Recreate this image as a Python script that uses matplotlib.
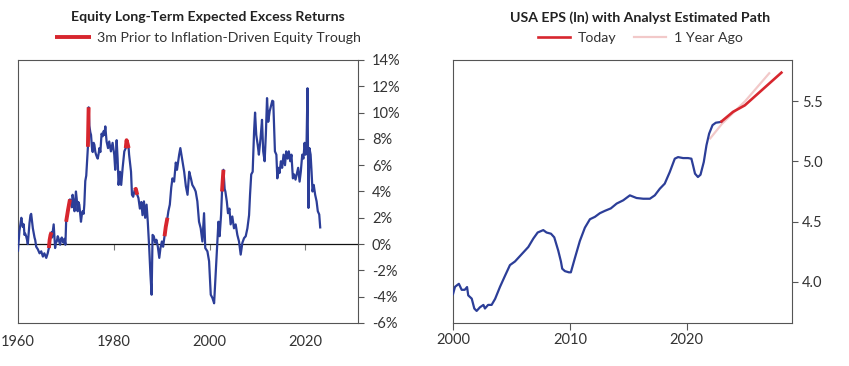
import matplotlib
matplotlib.use("Agg")
import numpy as np
import matplotlib.pyplot as plt
from matplotlib.ticker import FuncFormatter

plt.rcParams['font.family'] = ['Lato', 'DejaVu Sans']

# --- Equity long-term expected excess returns (%) ---
erp_years = [
    1960.0, 1960.15, 1960.3, 1960.5, 1960.7, 1960.85, 1961.0, 1961.2, 1961.35, 1961.5,
    1961.7, 1961.9, 1962.05, 1962.25, 1962.4, 1962.6, 1962.75, 1962.9, 1963.1, 1963.3,
    1963.45, 1963.6, 1963.8, 1964.15, 1964.5, 1964.85, 1965.2, 1965.5, 1965.9, 1966.2,
    1966.45, 1966.6, 1966.8, 1967.0, 1967.1, 1967.3, 1967.45, 1967.6, 1967.75, 1967.9,
    1968.1, 1968.3, 1968.45, 1968.6, 1968.8, 1969.0, 1969.15, 1969.3, 1969.5, 1969.7,
    1969.9, 1970.05, 1970.45, 1970.85, 1971.1, 1971.25, 1971.4, 1971.6, 1971.8, 1972.1,
    1972.3, 1972.45, 1972.6, 1972.8, 1973.0, 1973.15, 1973.35, 1973.5, 1973.7, 1973.85,
    1974.05, 1974.25, 1974.45, 1974.6, 1974.75, 1974.9, 1975.1, 1975.25, 1975.45, 1975.6,
    1975.8, 1975.95, 1976.15, 1976.3, 1976.5, 1976.65, 1976.85, 1977.0, 1977.2, 1977.45,
    1977.7, 1977.9, 1978.05, 1978.23, 1978.5, 1978.8, 1979.05, 1979.4, 1979.75, 1980.1,
    1980.3, 1980.6, 1980.8, 1981.0, 1981.3, 1981.55, 1981.85, 1982.2, 1982.5, 1982.67,
    1982.9, 1983.1, 1983.2, 1983.6, 1983.8, 1984.05, 1984.35, 1984.6, 1984.9, 1985.15,
    1985.45, 1985.75, 1986.0, 1986.3, 1986.55, 1986.85, 1987.1, 1987.4, 1987.65, 1987.9,
    1988.1, 1988.35, 1988.65, 1988.9, 1989.2, 1989.5, 1989.75, 1990.05, 1990.3, 1990.6,
    1990.85, 1991.2, 1991.4, 1991.7, 1992.0, 1992.25, 1992.6, 1992.95, 1993.2, 1993.65,
    1993.9, 1994.35, 1994.7, 1995.05, 1995.4, 1995.75, 1996.1, 1996.4, 1996.8, 1997.1,
    1997.45, 1997.8, 1998.15, 1998.5, 1998.85, 1999.1, 1999.55, 1999.9, 2000.25, 2000.6,
    2000.95, 2001.3, 2001.65, 2001.85, 2002.1, 2002.4, 2002.6, 2002.9, 2003.15, 2003.3,
    2003.6, 2003.85, 2004.15, 2004.4, 2004.75, 2005.1, 2005.45, 2005.8, 2006.15, 2006.5,
    2006.85, 2007.2, 2007.55, 2007.9, 2008.25, 2008.45, 2008.7, 2009.0, 2009.3, 2009.5,
    2009.75, 2010.05, 2010.3, 2010.65, 2010.95, 2011.2, 2011.5, 2011.75, 2012.0, 2012.25,
    2012.55, 2012.9, 2013.1, 2013.3, 2013.45, 2013.65, 2013.95, 2014.15, 2014.35, 2014.6,
    2014.9, 2015.15, 2015.45, 2015.75, 2016.0, 2016.3, 2016.55, 2016.85, 2017.1, 2017.4,
    2017.65, 2017.95, 2018.25, 2018.5, 2018.8, 2019.05, 2019.35, 2019.6, 2019.85, 2020.05,
    2020.25, 2020.45, 2020.65, 2020.85, 2021.1, 2021.3, 2021.5, 2021.75, 2022.05, 2022.35,
    2022.6, 2022.9, 2023.1,
]
erp_values = [
    -0.5, 0.3, 1.0, 1.5, 2.0, 1.6, 1.3, 1.5, 0.7, 0.8,
    0.6, 0.3, 0.0, 0.9, 1.6, 2.2, 2.3, 1.8, 1.2, 0.8,
    0.5, 0.3, -0.2, -0.4, -0.7, -0.55, -0.95, -0.7, -1.05, -0.7,
    -0.3, 0.3, 0.7, 0.9, 0.5, 1.1, 1.5, 0.6, -0.3, 0.1,
    0.2, 0.6, 0.45, 0.2, -0.05, 0.4, 0.5, 0.3, 0.1, 0.4,
    -0.05, 1.7, 2.6, 3.4, 3.2, 2.8, 3.75, 3.2, 2.5, 4.0,
    3.3, 2.5, 3.2, 3.0, 2.3, 1.7, 2.3, 2.5, 2.3, 3.0,
    4.8, 5.2, 6.5, 7.4, 10.4, 9.0, 8.5, 8.3, 7.3, 7.0,
    7.7, 7.55, 7.0, 6.8, 6.6, 6.5, 6.9, 7.3, 7.0, 8.4,
    8.2, 8.6, 8.3, 8.95, 7.8, 7.3, 7.8, 7.05, 7.7, 6.8,
    5.65, 7.9, 6.5, 4.5, 5.5, 4.5, 5.8, 7.05, 7.3, 7.9,
    7.6, 7.3, 6.8, 5.5, 3.75, 3.6, 4.1, 4.2, 3.75, 3.5,
    2.7, 3.2, 2.2, 3.25, 2.0, 3.0, 1.7, -0.3, -2.3, -3.85,
    0.7, 0.6, 0.1, 0.33, -0.2, -1.05, -0.3, 0.2, -0.2, 0.6,
    1.3, 2.0, 2.5, 3.0, 4.3, 5.0, 4.75, 6.2, 5.65, 6.8,
    7.3, 6.3, 5.5, 4.4, 3.75, 5.5, 5.0, 4.5, 4.25, 4.0,
    3.25, 1.7, 1.2, 0.2, 2.35, -0.3, -0.55, -1.3, -3.85, -4.1,
    -4.5, -2.1, 0.45, 1.7, 0.6, 2.2, 4.0, 5.65, 4.2, 4.0,
    3.25, 2.35, 2.7, 1.5, 2.1, 1.2, 1.5, 0.7, 0.2, -0.8,
    0.1, 0.45, 0.6, 1.2, 2.2, 3.75, 5.3, 5.5, 8.6, 10.0,
    8.3, 7.55, 6.8, 8.06, 9.45, 7.05, 6.3, 8.3, 11.1, 9.3,
    10.1, 10.6, 10.9, 10.85, 9.3, 7.05, 6.8, 5.0, 5.8, 5.4,
    6.3, 5.8, 6.8, 6.0, 7.05, 6.5, 7.05, 6.3, 6.8, 5.0,
    5.3, 4.9, 5.4, 5.8, 4.75, 5.5, 6.8, 6.5, 7.7, 6.8,
    7.55, 11.85, 2.75, 7.3, 6.8, 5.5, 4.0, 4.5, 3.75, 3.25,
    2.5, 2.25, 1.27,
]
# 3m windows prior to inflation-driven equity troughs (start, end)
trough_windows = [
    (1966.45, 1967.0), (1970.05, 1970.85), (1974.6, 1974.75), (1982.5, 1983.1),
    (1984.3, 1984.9), (1990.6, 1991.2), (2002.6, 2002.9),
]

# --- USA EPS (ln) ---
eps_years = [
    2000.0, 2000.17, 2000.5, 2000.74, 2001.0, 2001.2, 2001.3, 2001.6, 2001.82, 2002.02,
    2002.3, 2002.6, 2002.73, 2003.0, 2003.3, 2003.6, 2004.02, 2004.44, 2004.87, 2005.3,
    2005.87, 2006.44, 2006.87, 2007.24, 2007.72, 2008.0, 2008.38, 2008.66, 2009.0, 2009.23,
    2009.34, 2009.57, 2009.91, 2010.08, 2010.43, 2010.85, 2011.28, 2011.71, 2012.14, 2012.56,
    2013.0, 2013.5, 2014.0, 2014.56, 2015.13, 2015.7, 2016.27, 2016.84, 2017.26, 2017.69,
    2018.11, 2018.54, 2018.97, 2019.25, 2019.68, 2020.1, 2020.39, 2020.53, 2020.7, 2020.95,
    2021.17, 2021.45, 2021.68, 2021.91, 2022.2, 2022.48, 2022.82, 2022.96,
]
eps_values = [
    3.90, 3.96, 3.985, 3.935, 3.935, 3.958, 3.889, 3.862, 3.78, 3.76,
    3.79, 3.81, 3.78, 3.81, 3.81, 3.86, 3.96, 4.05, 4.14, 4.17,
    4.23, 4.29, 4.36, 4.41, 4.43, 4.41, 4.40, 4.37, 4.26, 4.17,
    4.11, 4.09, 4.08, 4.08, 4.20, 4.34, 4.45, 4.52, 4.54, 4.57,
    4.59, 4.61, 4.65, 4.677, 4.718, 4.696, 4.69, 4.69, 4.718, 4.773,
    4.815, 4.911, 5.022, 5.035, 5.027, 5.027, 5.022, 4.967, 4.898, 4.87,
    4.889, 4.994, 5.133, 5.23, 5.30, 5.32, 5.325, 5.33,
]
today_years = [2022.96, 2023.95, 2024.96, 2028.09]
today_values = [5.33, 5.41, 5.464, 5.735]
year_ago_years = [2022.0, 2023.0, 2025.0, 2027.05]
year_ago_values = [5.19, 5.31, 5.50, 5.73]

BLUE = '#2c3e98'
RED = '#d7262e'
PINK = '#f2c9c9'
SPINE = '#555555'
TXT = '#333333'

fig = plt.figure(figsize=(8.49, 3.66), dpi=100)
ax1 = fig.add_axes([0.0212, 0.1175, 0.4005, 0.7186])
ax2 = fig.add_axes([0.5336, 0.1175, 0.3993, 0.7186])

# ---- left panel ----
yrs = np.array(erp_years)
vals = np.array(erp_values)
ax1.plot(yrs, vals, color=BLUE, lw=1.6, zorder=3)
for i, (a, b) in enumerate(trough_windows):
    m = (yrs >= a - 1e-6) & (yrs <= b + 1e-6)
    ax1.plot(yrs[m], vals[m], color=RED, lw=2.8, solid_capstyle='butt', zorder=4,
             label='3m Prior to Inflation-Driven Equity Trough' if i == 0 else None)

ax1.set_xlim(1960, 2031)
ax1.set_ylim(-6, 14)
ax1.set_yticks(np.arange(-6, 15, 2))
ax1.yaxis.set_major_formatter(FuncFormatter(lambda v, p: f"{v:.0f}%"))
ax1.yaxis.tick_right()
ax1.set_xticks([1960, 1980, 2000, 2020])
ax1.tick_params(axis='y', length=4, width=0.8, color=SPINE, pad=6, labelsize=10.5, labelcolor=TXT)
ax1.tick_params(axis='x', length=0, pad=9, labelsize=10.5, labelcolor=TXT)

# zero line carrying the x ticks
zero_ax = ax1.secondary_xaxis(6 / 20)
zero_ax.set_xticks([1980, 2000, 2020])
zero_ax.tick_params(length=4, width=0.8, color='#777777', labelbottom=False)
zero_ax.spines['bottom'].set_color('#111111')
zero_ax.spines['bottom'].set_linewidth(0.9)

# ---- right panel ----
ax2.plot(year_ago_years, year_ago_values, color=PINK, lw=1.6, zorder=2, label='1 Year Ago')
ax2.plot(eps_years, eps_values, color=BLUE, lw=1.6, zorder=3)
ax2.plot(today_years, today_values, color=RED, lw=1.9, zorder=4, label='Today')
ax2.set_xlim(2000, 2029)
ax2.set_ylim(3.66, 5.84)
ax2.set_yticks([4.0, 4.5, 5.0, 5.5])
ax2.yaxis.set_major_formatter(FuncFormatter(lambda v, p: f"{v:.1f}"))
ax2.yaxis.tick_right()
ax2.set_xticks([2000, 2010, 2020])
ax2.tick_params(axis='y', length=4, width=0.8, color=SPINE, pad=3, labelsize=10.5, labelcolor=TXT)
ax2.tick_params(axis='x', length=5, width=0.8, color=SPINE, pad=2, labelsize=10.5, labelcolor=TXT)

for ax in (ax1, ax2):
    for s in ax.spines.values():
        s.set_color(SPINE)
        s.set_linewidth(0.8)

# titles and legends
fig.text(0.245, 0.953, 'Equity Long-Term Expected Excess Returns', ha='center', va='center',
         fontsize=10.2, fontweight='bold', color='#222222')
fig.text(0.754, 0.953, 'USA EPS (ln) with Analyst Estimated Path', ha='center', va='center',
         fontsize=10.2, fontweight='bold', color='#222222')

ax1.legend(loc='center', bbox_to_anchor=(0.245, 0.896), bbox_transform=fig.transFigure,
           frameon=False, fontsize=10.2, handlelength=2.5, handletextpad=0.45,
           borderaxespad=0, borderpad=0, labelcolor=TXT)
h, l = ax2.get_legend_handles_labels()
ax2.legend(h[::-1], l[::-1], loc='center', bbox_to_anchor=(0.754, 0.896),
           bbox_transform=fig.transFigure, ncol=2, frameon=False, fontsize=10.2,
           handlelength=2.3, handletextpad=0.55, columnspacing=1.2,
           borderaxespad=0, borderpad=0, labelcolor=TXT)

fig.savefig('out.png', dpi=100)
